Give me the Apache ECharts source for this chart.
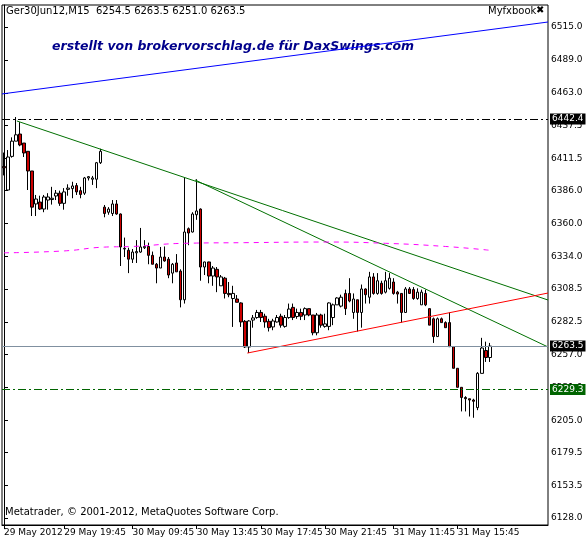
<!DOCTYPE html>
<html><head><meta charset="utf-8">
<script src="https://cdn.jsdelivr.net/npm/echarts@6/dist/echarts.min.js"></script>
<style>html,body{margin:0;padding:0;background:#fff}#c{width:586px;height:539px}</style>
</head><body><div id="c"></div>
<script>
// OHLC values [open, close, low, high]
const ohlc = [
[6405,6404,6398,6416],[6386.5,6412.5,6386,6418],[6413,6425,6412,6428],[6425,6430,6425,6444],[6430.6,6422,6421,6440],
[6423.5,6415.7,6412.5,6423.5],[6417,6401.5,6386.5,6417],[6401.5,6373,6366,6401.5],[6375.5,6379.4,6366,6382.6],[6377,6371.5,6370.8,6382],
[6371.5,6381,6369,6382.6],[6378.6,6381,6371,6384],[6379,6380,6375,6389],[6381.8,6384,6378.6,6386.5],[6384,6376,6374,6386],
[6376,6385,6371,6388],[6387,6388,6382,6391],[6387.6,6389.7,6380,6393],[6390,6385,6382.6,6392],[6386,6383,6380,6389],
[6384,6396,6382.6,6396.8],[6396,6397,6394,6397.5],[6395,6396,6390.5,6397.6],[6395,6408,6388,6408.6],[6408,6417,6407,6419],
[6373,6368,6365,6374.7],[6369,6371.5,6367,6373],[6368,6375.5,6366,6378.6],[6375.5,6367.6,6367,6378.6],[6367.6,6341.6,6326.6,6368],
[6340,6340.5,6333.7,6349],[6339,6332,6321,6341],[6332,6337.6,6329,6340],[6337,6338,6329,6347],[6337.6,6341.6,6337,6356.6],
[6341,6342,6340,6347],[6342,6335,6328,6345],[6335,6328,6328,6338],[6328,6325,6313,6329],[6325,6333.7,6325,6341.6],
[6333.7,6330.6,6330,6342],[6332,6319.5,6317,6333.7],[6321,6328,6313,6329],[6329,6322,6322,6336],[6322.6,6300,6294,6324],
[6300,6353.4,6297,6396],[6356,6352.6,6343,6357],[6353.4,6367.6,6353,6369],[6367,6370,6363,6395],[6371.5,6325.8,6315,6372],
[6325.8,6329.8,6319.5,6330],[6329.8,6318.7,6313,6330],[6318.7,6325,6311,6326.6],[6324,6318,6306,6325.8],[6311,6318,6311,6319.5],
[6317,6305,6301,6318],[6305,6304,6302,6314],[6301,6305,6278.6,6311],[6300.6,6298,6298,6303.7],[6297.5,6282.5,6278.6,6298],
[6283,6262.8,6262,6284],[6262.8,6283.3,6258,6284],[6284,6285.7,6278,6288],[6286,6290,6285,6292],[6290,6286,6282.5,6292],
[6287,6282.5,6278,6289],[6283,6278,6275,6285],[6278.6,6283.3,6276,6285],[6282.5,6286,6282,6288],[6287,6280,6278,6289],
[6279,6286,6278,6288],[6286,6292.7,6285,6297],[6294,6286,6284,6297],[6286.8,6290,6285,6293],[6290,6287,6284,6293],
[6288,6293,6284,6294],[6293,6288,6287,6293],[6288,6274,6272,6288],[6274,6288,6272,6289.6],[6288,6280,6278,6289],
[6279,6281,6278,6289],[6279,6297.5,6276,6298],[6286,6296,6280,6297],[6296,6301.4,6296,6302],[6295,6302,6294,6304],
[6305,6293,6288,6308],[6305,6299,6298,6317],[6290,6300.6,6285,6305],[6300,6290,6275,6300],[6290,6308.5,6278,6312],
[6308.5,6304,6297,6309],[6302,6318,6297,6322],[6318,6305,6304,6321],[6305,6315,6304,6321],[6313,6305,6304,6315],
[6306,6315,6305,6322],[6309,6317,6308,6321],[6314,6305,6304,6317],[6306,6304.5,6297,6307],[6305,6290,6282,6305],
[6290,6308.5,6290,6310],[6308.5,6305,6305,6310],[6308,6301,6300,6310],[6301,6306,6300,6309],[6296,6306,6296,6308],
[6305,6296,6295,6308],[6293,6280,6280,6293],[6285,6271,6266,6286],[6271,6285,6271,6286],[6285,6282,6282,6286],
[6282,6278,6278,6283],[6282,6263,6263,6290],[6263,6246,6246,6263],[6246,6231,6231,6246],[6231,6223,6212,6231],
[6223,6222,6212,6224],[6222,6221,6208,6222],[6221,6220,6207,6222],[6215,6242,6213,6243],[6242,6262,6242,6270],
[6260,6254.5,6251,6267],[6254.5,6263.5,6251,6266]
];
const dayLabels = ['29 May','30 May','31 May'];
const labelIdx = [0,15,32,48,64,80,97,113];
const yTicks = [6515.0,6489.0,6463.0,6437.5,6411.5,6386.0,6360.0,6334.0,6308.5,6282.5,6257.0,6231.0,6205.0,6179.5,6153.5,6128.0];
const blueLine = [[-0.5,6462.2],[135.5,6518.9]];
const greenA = [[3.2,6440.9],[135.5,6299.8]];
const greenB = [[47.6,6394.4],[135.5,6262.8]];
const redLine = [[60.6,6258.0],[135.5,6305.3]];
const maLine = [[0,6337],[15,6338.5],[25,6341.5],[32,6342],[45,6344.5],[60,6345],[80,6345.5],[95,6344.5],[110,6342],[121,6339]];
const levels = {high:6442.4, last:6263.5, green:6229.3};
const NSLOTS = 136;

const cats = [];
function pad(n){return (n<10?'0':'')+n;}
for (let i=0;i<NSLOTS;i++){
  let d, m;
  if (i<=24){ d=0; m=16*60+i*15; }
  else if (i<=81){ d=1; m=8*60+(i-25)*15; }
  else { d=2; m=8*60+(i-82)*15; }
  cats.push(i===0 ? '29 May 2012' : dayLabels[d]+' '+pad(Math.floor(m/60))+':'+pad(m%60));
}

const chart = echarts.init(document.getElementById('c'));
const F = 'Tahoma, "DejaVu Sans", sans-serif';
chart.setOption({
  animation:false,
  grid:{left:2,right:38,top:5,bottom:14,show:true,borderColor:'#000',borderWidth:1},
  xAxis:[{type:'category',data:cats,boundaryGap:true,
    axisLine:{lineStyle:{color:'#000'}},
    axisTick:{show:true,alignWithLabel:true,length:4,interval:(i)=>labelIdx.includes(i),lineStyle:{color:'#000'}},
    axisLabel:{interval:(i)=>labelIdx.includes(i),hideOverlap:false,showMinLabel:true,align:'left',margin:3,fontSize:9,fontFamily:F,color:'#000'},
    splitLine:{show:false}},
    {type:'value',min:-0.5,max:135.5,show:false}],
  yAxis:{type:'value',position:'right',min:6122.5,max:6532.3,
    axisLine:{show:true,lineStyle:{color:'#000'}},
    axisTick:{show:true,length:4,customValues:yTicks,lineStyle:{color:'#000'}},
    axisLabel:{customValues:yTicks,formatter:(v)=>v.toFixed(1),fontSize:9,fontFamily:F,color:'#000',margin:3},
    splitLine:{show:false}},
  series:[
    {type:'candlestick',data:ohlc,barWidth:3,
     itemStyle:{color:'#fff',color0:'#cc0000',borderColor:'#000',borderColor0:'#000',borderWidth:1},
     markLine:{symbol:'none',silent:true,data:[
       {yAxis:levels.high,lineStyle:{color:'#000',type:[8,3,2,3],width:1},
        label:{position:'end',formatter:'6442.4',color:'#fff',backgroundColor:'#000',fontSize:9,fontFamily:F,padding:[1,2],distance:2}},
       {yAxis:levels.last,lineStyle:{color:'#8090a0',type:'solid',width:1},
        label:{position:'end',formatter:'6263.5',color:'#fff',backgroundColor:'#000',fontSize:9,fontFamily:F,padding:[1,2],distance:2}},
       {yAxis:levels.green,lineStyle:{color:'#006400',type:[8,3,2,3],width:1},
        label:{position:'end',formatter:'6229.3',color:'#fff',backgroundColor:'#006400',fontSize:9,fontFamily:F,padding:[1,2],distance:2}}
     ]}},
    {type:'line',xAxisIndex:1,data:blueLine,symbol:'none',lineStyle:{color:'#0000ff',width:1}},
    {type:'line',xAxisIndex:1,data:greenA,symbol:'none',lineStyle:{color:'#007000',width:1}},
    {type:'line',xAxisIndex:1,data:greenB,symbol:'none',lineStyle:{color:'#007000',width:1}},
    {type:'line',xAxisIndex:1,data:redLine,symbol:'none',lineStyle:{color:'#ff0000',width:1}},
    {type:'line',xAxisIndex:1,data:maLine,symbol:'none',smooth:true,lineStyle:{color:'#ff00ff',width:1,type:[5,5]}}
  ],
  graphic:[
    {type:'text',left:6,top:6,style:{text:'Ger30Jun12,M15  6254.5 6263.5 6251.0 6263.5',font:'10px '+F,fill:'#000'}},
    {type:'text',left:488,top:6,style:{text:'Myfxbook',font:'10px '+F,fill:'#000'}},
    {type:'text',left:536,top:5,style:{text:'✖',font:'bold 10px '+F,fill:'#000'}},
    {type:'text',left:52,top:40,style:{text:'erstellt von brokervorschlag.de für DaxSwings.com',font:'italic bold 12.5px "DejaVu Sans", sans-serif',fill:'#00008b'}},
    {type:'text',left:5,top:507,style:{text:'Metatrader, © 2001-2012, MetaQuotes Software Corp.',font:'10px '+F,fill:'#000'}}
  ]
});
</script></body></html>
